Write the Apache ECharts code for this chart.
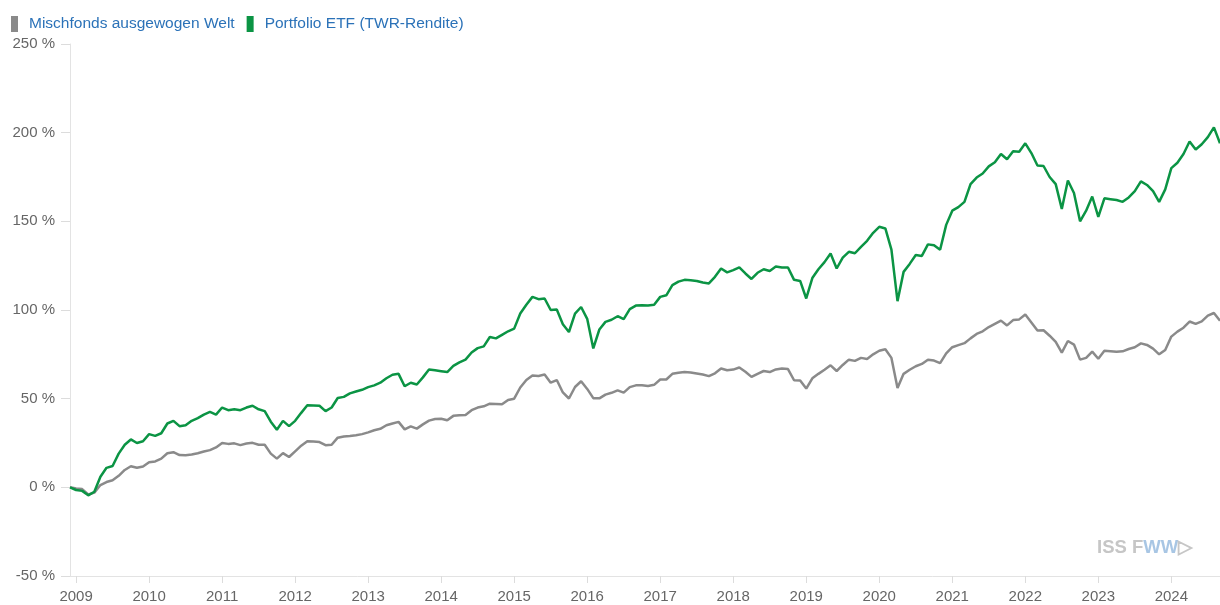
<!DOCTYPE html>
<html>
<head>
<meta charset="utf-8">
<script src="https://cdn.jsdelivr.net/npm/echarts@6/dist/echarts.min.js"></script>
<style>
  html, body { margin: 0; padding: 0; background: #fff; }
  #chart { width: 1220px; height: 605px; }
</style>
</head>
<body>
<div id="chart"></div>
<script>
// monthly points, Dec 2008 .. Sep 2024
const startYear = 2008;
const startMonth = 12;
const monthCount = 190;

const seriesNames = ['Mischfonds ausgewogen Welt', 'Portfolio ETF (TWR-Rendite)'];

const mischfonds = [
  0, -0.7, -1, -4, -3, 1.3, 3, 4, 6.5, 9.8, 11.9, 11, 11.8,
  14.2, 14.6, 16.2, 19.2, 19.8, 18.2, 18.1, 18.5, 19.2, 20.2, 21, 22.5,
  25, 24.5, 24.8, 23.8, 24.7, 25.1, 24, 24, 19, 16.2, 19.3, 17.1,
  20.3, 23.5, 26, 25.8, 25.5, 23.8, 24, 28, 28.7, 29, 29.4, 30,
  31, 32.2, 33, 35, 36, 36.9, 32.7, 34.4, 33.1, 35.5, 37.6, 38.5,
  38.7, 37.8, 40.3, 40.6, 40.8, 43.5, 45, 45.7, 47.2, 47, 46.8, 49.3,
  50, 56.3, 60.5, 63, 62.8, 63.6, 59, 60.5, 53.5, 50.1, 56.6, 59.8,
  55.5, 50.3, 50.2, 52.3, 53.3, 54.7, 53.4, 56.5, 57.5, 57.6, 57.2, 57.8,
  60.8, 60.8, 64, 64.6, 65, 64.8, 64.2, 63.6, 62.7, 64.3, 67, 66,
  66.4, 67.6, 65.2, 62.3, 64, 65.6, 65, 66.5, 67, 66.7, 60.4, 60.3,
  55.7, 61.5, 64, 66.3, 68.8, 65.6, 69, 72, 71.3, 73, 72.4, 75,
  77, 77.9, 73, 56, 64, 66.3, 68.3, 69.6, 72, 71.5, 70, 75.5,
  79, 80.2, 81.3, 84, 86.5, 88, 90.4, 92.2, 94, 91.3, 94.3, 94.7,
  97.5, 93, 88.5, 88.6, 85.5, 82, 76, 82.5, 80.5, 72, 73, 76.5,
  72.5, 77, 76.8, 76.4, 76.7, 78, 79, 81.2, 80.3, 78.2, 75, 77.5,
  85, 87.8, 90, 93.5, 92.2, 93.6, 96.8, 98.3, 94
];

const portfolioEtf = [
  0, -1.5, -2, -4.5, -2.5, 6, 11, 12, 19, 24, 27, 25, 26,
  30, 29, 30.5, 36, 37.5, 34.5, 35, 37.5, 39, 41, 42.5, 41,
  45, 43.5, 44, 43.5, 45, 46, 44, 43, 37, 32.5, 37.5, 34.5,
  37.5, 42, 46.3, 46.2, 46, 43, 45, 50.4, 51, 53, 54, 55,
  56.5, 57.5, 59, 61.5, 63.5, 64, 57, 59, 58, 62, 66.4, 66,
  65.5, 65, 68.5, 70.5, 72, 76, 78.5, 79.5, 84.8, 84, 86, 88,
  89.5, 98, 103, 107.4, 106.1, 106.5, 100, 100.3, 92, 87.6, 98, 101.7,
  95, 78.3, 89, 93.3, 94.5, 96.5, 94.8, 100.5, 102.5, 102.7, 102.5, 103,
  107.4, 108.3, 114, 116, 117, 116.8, 116.4, 115.5, 115, 118.7, 123.4, 121.2,
  122.5, 124, 120.6, 117.5, 121, 123, 122, 124.5, 124, 124, 117, 116.4,
  106.5, 118, 123, 127, 131.9, 123.4, 129.5, 132.8, 132, 135.6, 139, 143.5,
  146.9, 146, 134, 105, 121.5, 126, 131, 130.5, 137, 136.5, 134, 148,
  156, 158, 161, 171, 174.7, 177, 181, 183.3, 188, 185, 189.5, 189.3,
  194, 188.5, 181.5, 181.2, 175, 171, 157, 173, 166, 150, 156, 164,
  152.5, 163, 162.5, 162, 161, 163.5, 167, 172.5, 170.5, 167, 161, 168,
  180, 183, 188, 195, 190.5, 193.5, 197.5, 203, 194
];

const months = [];
for (let i = 0; i < monthCount; i++) {
  const m = (startMonth - 1 + i) % 12 + 1;
  const y = startYear + Math.floor((startMonth - 1 + i) / 12);
  months.push(y + '-' + (m < 10 ? '0' + m : m));
}

const isJanuary = (idx, val) => val.slice(5) === '01';

const chart = echarts.init(document.getElementById('chart'));

const option = {
  animation: false,
  color: ['#8a8a8a', '#0b9444'],
  textStyle: { fontFamily: '"Liberation Sans", Arial, sans-serif' },
  legend: {
    left: 6,
    top: 11,
    icon: 'rect',
    itemWidth: 7,
    itemHeight: 16,
    itemGap: 12,
    textStyle: { color: '#2b72b8', fontSize: 15.5, padding: [0, 0, 2, 6] },
    data: seriesNames
  },
  grid: { left: 70, right: 0, top: 44, bottom: 29, containLabel: false },
  xAxis: {
    type: 'category',
    data: months,
    boundaryGap: false,
    axisLine: { onZero: false, lineStyle: { color: '#e3e3e3' } },
    axisTick: { interval: isJanuary, length: 7, lineStyle: { color: '#dcdcdc' } },
    axisLabel: {
      interval: isJanuary,
      formatter: (v) => v.slice(0, 4),
      color: '#666',
      fontSize: 15,
      margin: 13
    },
    splitLine: { show: false }
  },
  yAxis: {
    type: 'value',
    min: -50,
    max: 250,
    interval: 50,
    axisLine: { show: true, lineStyle: { color: '#e3e3e3' } },
    axisTick: { show: true, length: 9, lineStyle: { color: '#dcdcdc' } },
    axisLabel: { formatter: '{value} %', color: '#666', fontSize: 15, margin: 15 },
    splitLine: { show: false }
  },
  graphic: [{
    type: 'text',
    left: 1097,
    top: 538,
    style: {
      text: '{g|ISS F}{b|WW}{g|▷}',
      rich: {
        g: { fill: '#c6c6c6', fontSize: 18.5, fontWeight: 'bold', fontFamily: '"Liberation Sans", Arial' },
        b: { fill: '#a8c6e4', fontSize: 18.5, fontWeight: 'bold', fontFamily: '"Liberation Sans", Arial' }
      }
    }
  }],
  series: [
    {
      name: seriesNames[0],
      type: 'line',
      data: mischfonds,
      symbol: 'none',
      lineStyle: { width: 2.5, color: '#8a8a8a' },
      z: 2
    },
    {
      name: seriesNames[1],
      type: 'line',
      data: portfolioEtf,
      symbol: 'none',
      lineStyle: { width: 2.5, color: '#0b9444' },
      z: 3
    }
  ]
};

chart.setOption(option);
</script>
</body>
</html>
